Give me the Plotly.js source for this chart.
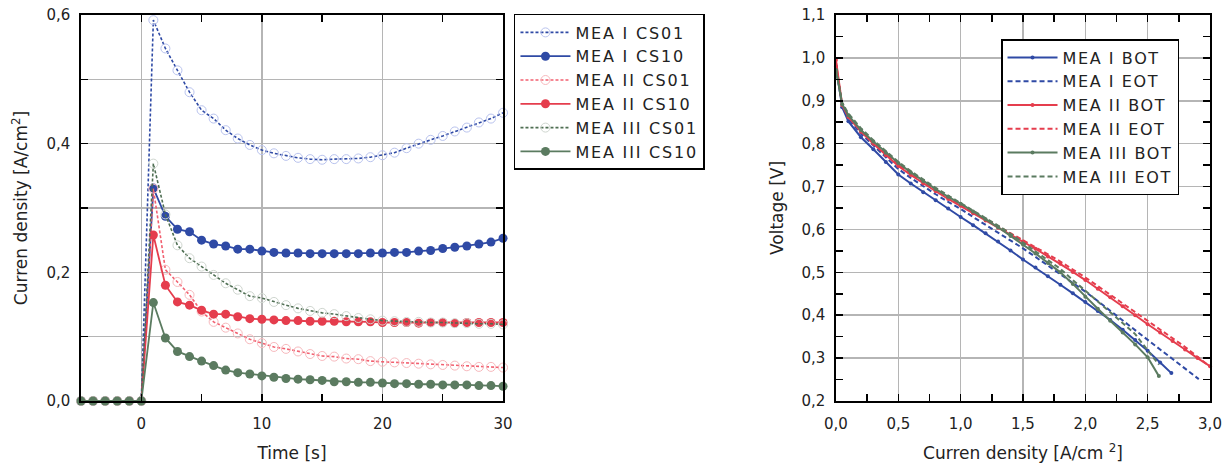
<!DOCTYPE html>
<html>
<head>
<meta charset="utf-8">
<script src="https://cdn.plot.ly/plotly-3.0.1.min.js"></script>
<style>html,body{margin:0;padding:0;background:#fff;}#chart{width:1231px;height:463px;}
.legendtext{letter-spacing:1.8px;}
.legend2text{letter-spacing:1.6px;}</style>
</head>
<body>
<div id="chart"></div>
<script>
// ---------- Left chart: transient current density ----------
const timeS = [-5,-4,-3,-2,-1,0,1,2,3,4,5,6,7,8,9,10,11,12,13,14,15,16,17,18,19,20,21,22,23,24,25,26,27,28,29,30];
const meaI_CS01 = [0,0,0,0,0,0,0.592,0.548,0.514,0.480,0.452,0.439,0.421,0.408,0.398,0.390,0.385,0.381,0.378,0.376,0.375,0.376,0.376,0.377,0.379,0.382,0.386,0.393,0.400,0.406,0.412,0.419,0.425,0.433,0.439,0.448];
const meaI_CS10 = [0,0,0,0,0,0,0.331,0.287,0.267,0.263,0.250,0.244,0.241,0.236,0.236,0.233,0.231,0.230,0.230,0.229,0.229,0.229,0.229,0.229,0.230,0.230,0.231,0.231,0.233,0.234,0.237,0.239,0.241,0.244,0.247,0.253];
const meaII_CS01 = [0,0,0,0,0,0,0.330,0.204,0.185,0.165,0.139,0.123,0.114,0.105,0.096,0.090,0.084,0.081,0.077,0.073,0.070,0.069,0.066,0.065,0.062,0.061,0.060,0.059,0.058,0.057,0.056,0.055,0.054,0.053,0.053,0.052];
const meaII_CS10 = [0,0,0,0,0,0,0.258,0.180,0.154,0.149,0.141,0.135,0.135,0.131,0.128,0.127,0.126,0.125,0.125,0.124,0.124,0.124,0.123,0.123,0.123,0.122,0.122,0.122,0.121,0.122,0.122,0.121,0.122,0.122,0.122,0.122];
const meaIII_CS01 = [0,0,0,0,0,0,0.369,0.290,0.242,0.222,0.209,0.196,0.183,0.173,0.163,0.160,0.154,0.149,0.144,0.140,0.137,0.135,0.132,0.129,0.127,0.125,0.124,0.123,0.123,0.122,0.122,0.121,0.121,0.120,0.120,0.119];
const meaIII_CS10 = [0,0,0,0,0,0,0.153,0.098,0.077,0.069,0.062,0.055,0.048,0.044,0.042,0.039,0.037,0.035,0.034,0.033,0.032,0.030,0.030,0.029,0.029,0.028,0.027,0.027,0.026,0.026,0.025,0.025,0.025,0.024,0.024,0.023];

// ---------- Right chart: polarization curves ----------
const jI_BOT = [0,0.05,0.1,0.2,0.3,0.4,0.5,0.6,0.7,0.8,0.9,1.0,1.1,1.2,1.3,1.4,1.5,1.6,1.7,1.8,1.9,2.0,2.1,2.2,2.3,2.4,2.5,2.6,2.69];
const vI_BOT = [0.980,0.885,0.852,0.815,0.787,0.757,0.728,0.707,0.687,0.668,0.649,0.629,0.610,0.591,0.572,0.551,0.530,0.511,0.491,0.471,0.451,0.431,0.410,0.389,0.366,0.342,0.317,0.290,0.265];
const jI_EOT = [0,0.05,0.1,0.2,0.3,0.4,0.5,0.6,0.7,0.8,0.9,1.0,1.1,1.2,1.3,1.4,1.5,1.6,1.7,1.8,1.9,2.0,2.1,2.2,2.3,2.4,2.5,2.6,2.7,2.8,2.91];
const vI_EOT = [0.980,0.888,0.858,0.823,0.796,0.768,0.741,0.720,0.700,0.682,0.664,0.648,0.629,0.611,0.593,0.575,0.556,0.536,0.516,0.496,0.476,0.455,0.433,0.410,0.388,0.365,0.343,0.320,0.298,0.275,0.251];
const jII_BOT = [0,0.05,0.1,0.2,0.3,0.4,0.5,0.6,0.7,0.8,0.9,1.0,1.1,1.2,1.3,1.4,1.5,1.6,1.7,1.8,1.9,2.0,2.1,2.2,2.3,2.4,2.5,2.6,2.7,2.8,2.9,3.0];
const vII_BOT = [0.995,0.890,0.862,0.828,0.800,0.773,0.748,0.727,0.707,0.689,0.671,0.655,0.638,0.621,0.604,0.588,0.572,0.555,0.537,0.520,0.501,0.482,0.462,0.442,0.421,0.400,0.379,0.360,0.340,0.320,0.300,0.281];
const jII_EOT = [0,0.05,0.1,0.2,0.3,0.4,0.5,0.6,0.7,0.8,0.9,1.0,1.1,1.2,1.3,1.4,1.5,1.6,1.7,1.8,1.9,2.0,2.1,2.2,2.3,2.4,2.5,2.6,2.7,2.8,2.97];
const vII_EOT = [0.990,0.890,0.864,0.830,0.803,0.776,0.751,0.730,0.710,0.692,0.674,0.658,0.641,0.624,0.608,0.592,0.575,0.559,0.542,0.525,0.507,0.488,0.468,0.448,0.428,0.407,0.386,0.366,0.346,0.326,0.287];
const jIII_BOT = [0,0.05,0.1,0.2,0.3,0.4,0.5,0.6,0.7,0.8,0.9,1.0,1.1,1.2,1.3,1.4,1.5,1.6,1.7,1.8,1.9,2.0,2.1,2.2,2.3,2.4,2.5,2.59];
const vIII_BOT = [0.972,0.892,0.866,0.832,0.805,0.779,0.755,0.733,0.713,0.694,0.676,0.660,0.642,0.624,0.605,0.585,0.565,0.544,0.522,0.500,0.473,0.443,0.415,0.387,0.360,0.332,0.302,0.258];
const jIII_EOT = [0,0.05,0.1,0.2,0.3,0.4,0.5,0.6,0.7,0.8,0.9,1.0,1.1,1.2,1.3,1.4,1.5,1.6,1.7,1.8,1.9,2.0,2.1,2.2,2.3,2.4,2.5,2.59];
const vIII_EOT = [0.975,0.895,0.870,0.836,0.808,0.782,0.758,0.736,0.716,0.697,0.679,0.662,0.645,0.627,0.609,0.590,0.570,0.550,0.529,0.508,0.482,0.456,0.432,0.407,0.382,0.356,0.318,0.285];

const BLUE='#2f4aa5', RED='#e53d4d', GREEN='#5b7b60';
const BLUE_L='#b9c3ee', RED_L='#f7b9bd', GREEN_L='#cfd6cf';
const FONT='DejaVu Sans';

function cs01(name,y,lc,mc){return {x:timeS,y:y,name:name,type:'scatter',mode:'lines+markers',cliponaxis:false,
  line:{color:lc,width:1.6,dash:'3px,2px'},marker:{symbol:'circle-open',size:9,color:mc,line:{width:1,color:mc}},xaxis:'x',yaxis:'y',legend:'legend'};}
function cs10(name,y,c){return {x:timeS,y:y,name:name,type:'scatter',mode:'lines+markers',cliponaxis:false,
  line:{color:c,width:1.8},marker:{symbol:'circle',size:9,color:c},xaxis:'x',yaxis:'y',legend:'legend'};}
function bot(name,x,y,c){return {x:x,y:y,name:name,type:'scatter',mode:'lines+markers',cliponaxis:false,
  line:{color:c,width:2},marker:{symbol:'circle',size:4,color:c},xaxis:'x2',yaxis:'y2',legend:'legend2'};}
function eot(name,x,y,c){return {x:x,y:y,name:name,type:'scatter',mode:'lines',cliponaxis:false,
  line:{color:c,width:2,dash:'5px,3px'},xaxis:'x2',yaxis:'y2',legend:'legend2'};}

const data=[
  cs01('MEA I CS01',meaI_CS01,BLUE,BLUE_L),
  cs10('MEA I CS10',meaI_CS10,BLUE),
  cs01('MEA II CS01',meaII_CS01,'#f26070',RED_L),
  cs10('MEA II CS10',meaII_CS10,RED),
  cs01('MEA III CS01',meaIII_CS01,'#4e6e52',GREEN_L),
  cs10('MEA III CS10',meaIII_CS10,GREEN),
  bot('MEA I BOT',jI_BOT,vI_BOT,BLUE),
  eot('MEA I EOT',jI_EOT,vI_EOT,BLUE),
  bot('MEA II BOT',jII_BOT,vII_BOT,RED),
  eot('MEA II EOT',jII_EOT,vII_EOT,RED),
  bot('MEA III BOT',jIII_BOT,vIII_BOT,GREEN),
  eot('MEA III EOT',jIII_EOT,vIII_EOT,GREEN)
];

const GRID='#b5b5b5';
function ax(o){return Object.assign({showline:true,linecolor:'#000',linewidth:1.6,mirror:'ticks',ticks:'inside',ticklen:7,tickwidth:1.5,tickcolor:'#000',
  showgrid:true,gridcolor:GRID,gridwidth:1.5,zeroline:false,tickfont:{family:FONT,size:15,color:'#222'},fixedrange:true},o);}

const layout={
  width:1231,height:463,separators:',.',
  paper_bgcolor:'#fff',plot_bgcolor:'#fff',
  margin:{l:81,r:21,t:15,b:62},
  showlegend:true,
  xaxis:ax({domain:[0,0.3738],range:[-5,30],tickmode:'array',tickvals:[0,10,20,30],ticktext:['0','10','20','30'],
    minor:{tickvals:[5,15,25],ticks:'inside',ticklen:7,tickcolor:'#000',showgrid:false},ticklabelstandoff:8,
    title:{text:'Time [s]',font:{family:FONT,size:17,color:'#222'},standoff:15},anchor:'y'}),
  yaxis:ax({domain:[0,1],range:[0,0.6],dtick:0.2,tickformat:'.1f',
    minor:{dtick:0.1,ticks:'inside',ticklen:7,tickcolor:'#000',showgrid:true,gridcolor:GRID,gridwidth:1.5},ticklabelstandoff:6,
    title:{text:'Curren density [A/cm<sup>2</sup>]',font:{family:FONT,size:17,color:'#222'},standoff:14},anchor:'x'}),
  xaxis2:ax({domain:[0.6687,1],range:[0,3],dtick:0.5,tickformat:'.1f',
    minor:{dtick:0.25,ticks:'inside',ticklen:7,tickcolor:'#000',showgrid:false},ticklabelstandoff:8,
    title:{text:'Curren density [A/cm <sup>2</sup>]',font:{family:FONT,size:17,color:'#222'},standoff:15},anchor:'y2'}),
  yaxis2:ax({domain:[0,1],range:[0.2,1.1],dtick:0.1,tickformat:'.1f',
    minor:{dtick:0.05,ticks:'inside',ticklen:7,tickcolor:'#000',showgrid:false},ticklabelstandoff:6,
    title:{text:'Voltage [V]',font:{family:FONT,size:17,color:'#222'},standoff:13},anchor:'x2'}),
  legend:{x:0.3835,y:1.0026,xanchor:'left',yanchor:'top',bgcolor:'#fff',bordercolor:'#000',borderwidth:1.5,
    font:{family:FONT,size:16,color:'#222'},itemwidth:50,tracegroupgap:0},
  legend2:{x:0.8149,y:0.9378,xanchor:'left',yanchor:'top',bgcolor:'#fff',bordercolor:'#000',borderwidth:1.5,
    font:{family:FONT,size:16,color:'#222'},itemwidth:50,tracegroupgap:0}
};

Plotly.newPlot('chart',data,layout,{displayModeBar:false,staticPlot:true});
</script>
</body>
</html>
